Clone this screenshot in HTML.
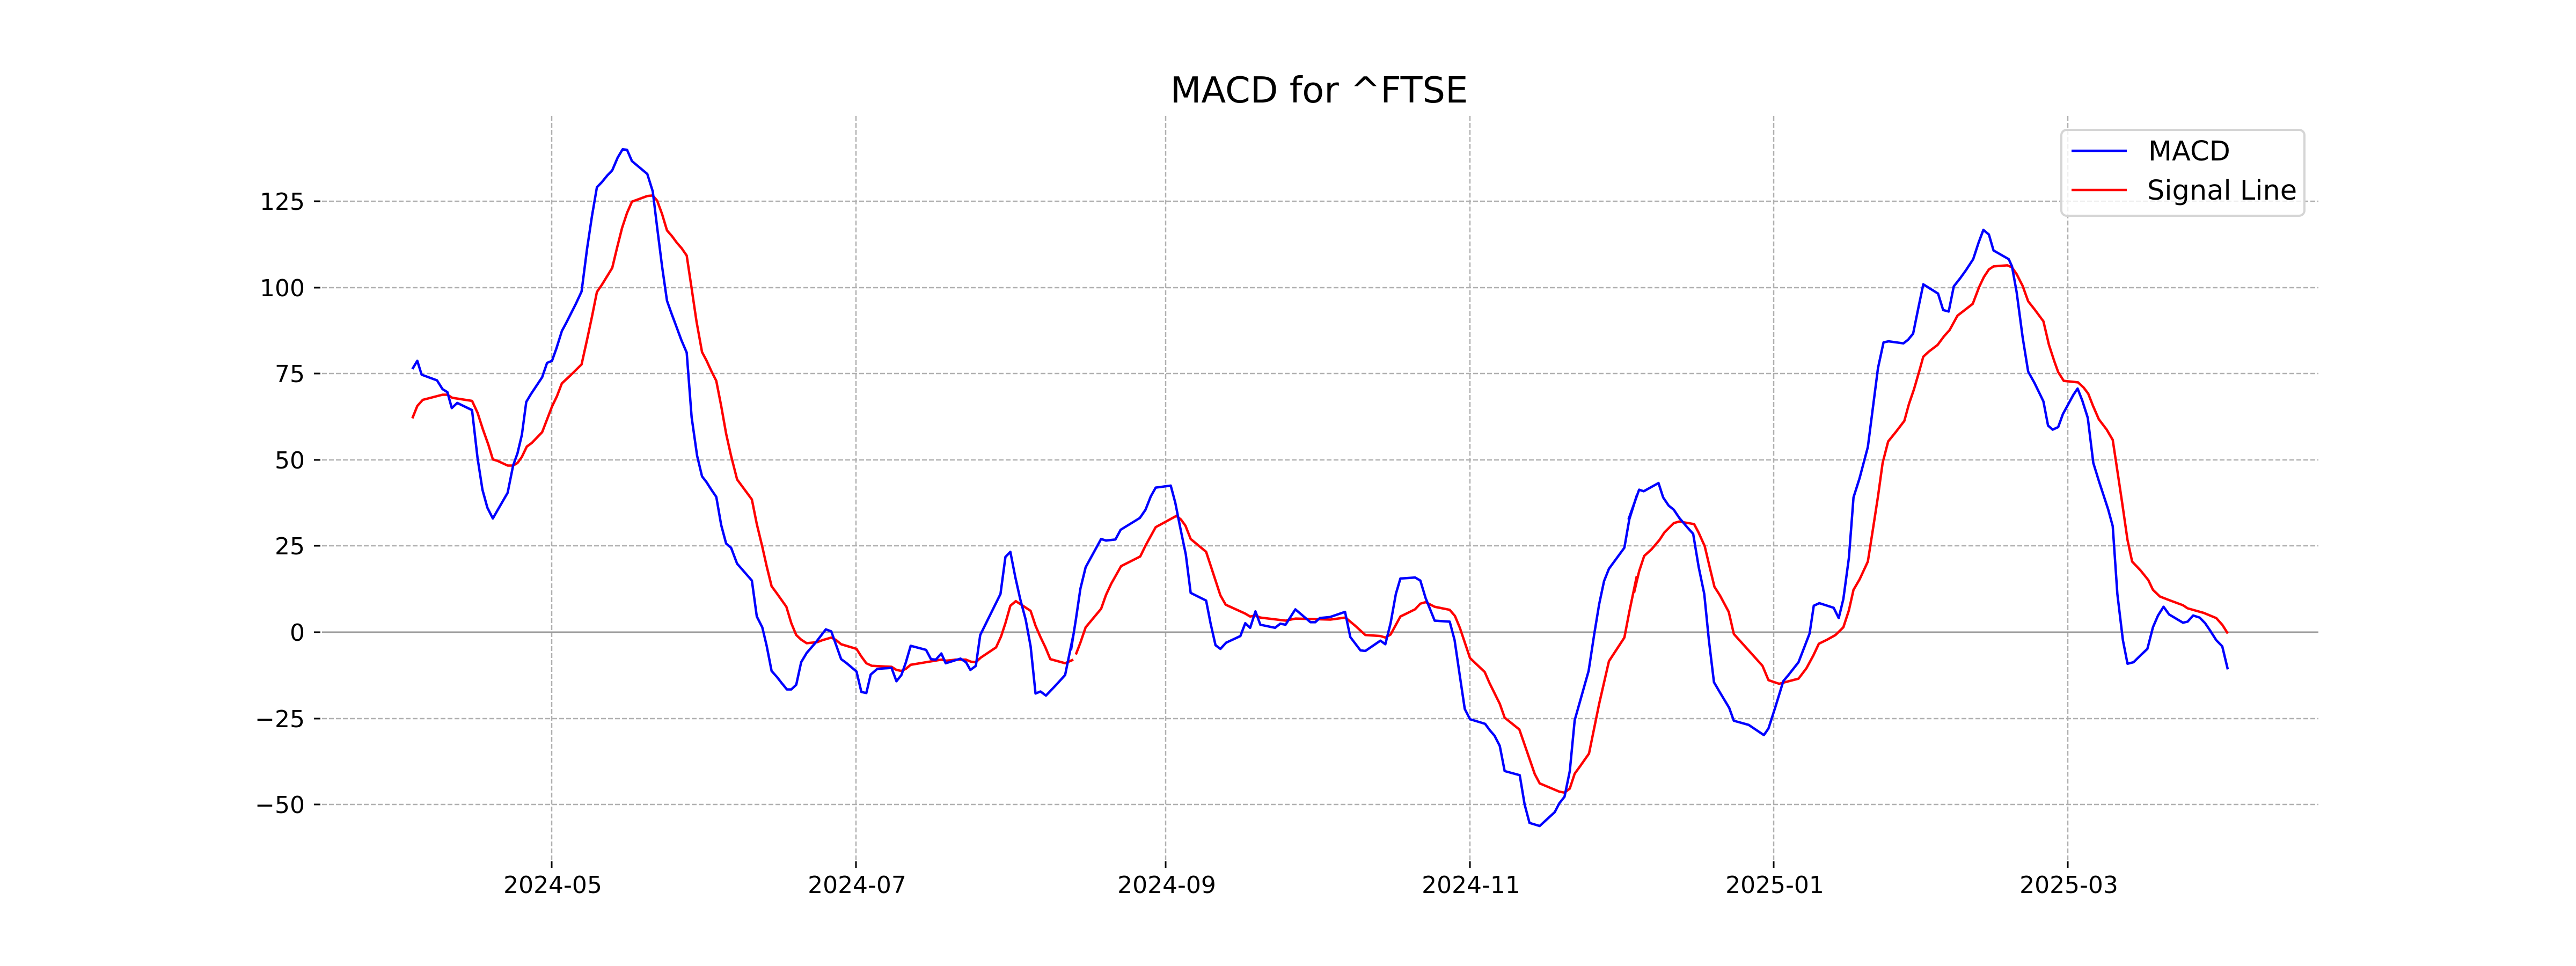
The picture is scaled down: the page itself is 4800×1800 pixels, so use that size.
<!DOCTYPE html>
<html><head><meta charset="utf-8"><style>
html,body{margin:0;padding:0;background:#fff;}
svg{display:block;}
text{font-family:"DejaVu Sans","Liberation Sans",sans-serif;fill:#000;}
</style></head><body>
<svg width="4800" height="1800" viewBox="0 0 4800 1800" xmlns="http://www.w3.org/2000/svg">
<rect width="4800" height="1800" fill="#fff"/>
<g stroke="#b0b0b0" stroke-width="2.5" stroke-dasharray="9,4" fill="none">
<line x1="600" x2="4320" y1="375" y2="375"/>
<line x1="600" x2="4320" y1="536" y2="536"/>
<line x1="600" x2="4320" y1="696" y2="696"/>
<line x1="600" x2="4320" y1="857" y2="857"/>
<line x1="600" x2="4320" y1="1017" y2="1017"/>
<line x1="600" x2="4320" y1="1339" y2="1339"/>
<line x1="600" x2="4320" y1="1499" y2="1499"/>
<line y1="216" y2="1602" x1="1028" x2="1028"/>
<line y1="216" y2="1602" x1="1595" x2="1595"/>
<line y1="216" y2="1602" x1="2172" x2="2172"/>
<line y1="216" y2="1602" x1="2739" x2="2739"/>
<line y1="216" y2="1602" x1="3305" x2="3305"/>
<line y1="216" y2="1602" x1="3853" x2="3853"/>
</g>
<line x1="600" x2="4320" y1="1178" y2="1178" stroke="#999" stroke-width="3"/>
<g stroke="#000" stroke-width="3">
<line x1="585" x2="597" y1="375" y2="375"/><line x1="585" x2="597" y1="536" y2="536"/>
<line x1="585" x2="597" y1="696" y2="696"/><line x1="585" x2="597" y1="857" y2="857"/>
<line x1="585" x2="597" y1="1017" y2="1017"/><line x1="585" x2="597" y1="1178" y2="1178"/>
<line x1="585" x2="597" y1="1339" y2="1339"/><line x1="585" x2="597" y1="1499" y2="1499"/>
<line y1="1605" y2="1617" x1="1028" x2="1028"/><line y1="1605" y2="1617" x1="1595" x2="1595"/>
<line y1="1605" y2="1617" x1="2172" x2="2172"/><line y1="1605" y2="1617" x1="2739" x2="2739"/>
<line y1="1605" y2="1617" x1="3305" x2="3305"/><line y1="1605" y2="1617" x1="3853" x2="3853"/>
</g>
<g font-size="44" text-anchor="end">
<text x="568" y="391">125</text><text x="568" y="552">100</text>
<text x="568" y="712">75</text><text x="568" y="873">50</text>
<text x="568" y="1033">25</text><text x="568" y="1194">0</text>
<text x="568" y="1355">−25</text><text x="568" y="1515">−50</text>
</g>
<g font-size="44" text-anchor="middle">
<text x="1030" y="1664">2024-05</text><text x="1597" y="1664">2024-07</text>
<text x="2174" y="1664">2024-09</text><text x="2741" y="1664">2024-11</text>
<text x="3307" y="1664">2025-01</text><text x="3855" y="1664">2025-03</text>
</g>
<text x="2458" y="191" font-size="67" text-anchor="middle">MACD for ^FTSE</text>
<g fill="none" stroke-width="4.5" stroke-linejoin="round">
<g transform="translate(400,150) scale(1.0204,0.9567)">
<polyline vector-effect="non-scaling-stroke" stroke="#ff0000" points="361,658 370,634 380,622 416,612 425,612 434,618 470,624 480,647 490,680 500,710 508,738 517,741 535,750 545,750 553,745 561,733 570,713 579,706 598,685 607,660 616,635 625,615 634,590 651,573 670,553 680,505 689,460 698,412 707,398 726,365 735,325 744,287 753,258 762,236 790,225 800,224 808,234 817,260 826,292 835,303 844,316 853,327 862,341 871,405 880,470 890,529 898,545 907,566 916,585 925,634 934,688 943,731 954,777 963,790 981,816 990,864 1000,908 1008,946 1017,985 1026,998 1044,1025 1053,1057 1062,1080 1071,1089 1081,1096 1100,1094 1110,1090 1126,1085 1135,1090 1144,1098 1172,1107 1181,1122 1190,1135 1200,1140 1236,1142 1245,1148 1254,1150 1262,1146 1271,1138 1299,1133 1327,1128 1336,1130 1353,1128 1372,1128 1381,1132 1390,1133 1399,1124 1427,1104 1436,1083 1444,1057 1453,1023 1463,1014 1490,1033 1499,1062 1508,1084 1517,1104 1526,1127 1553,1135 1568,1128"/>
<polyline vector-effect="non-scaling-stroke" stroke="#0000ff" points="361,562 370,546 378,573 406,584 416,601 425,607 433,638 443,628 470,642 480,735 489,797 498,832 508,853 516,838 535,803 545,750 553,726 561,690 569,626 578,610 598,578 607,550 616,546 624,522 634,488 643,470 660,434 670,411 680,328 689,264 698,208 707,198 717,185 726,175 736,150 745,134 753,135 762,157 790,182 800,216 808,286 817,362 826,429 835,456 842,476 852,505 862,530 871,656 881,731 890,771 898,782 907,797 916,811 925,866 934,902 943,910 954,941 981,974 990,1044 1000,1065 1008,1101 1017,1150 1027,1162 1035,1173 1045,1186 1053,1186 1062,1177 1071,1133 1081,1115 1098,1094 1116,1069 1126,1073 1135,1100 1144,1127 1153,1134 1172,1151 1181,1191 1190,1193 1198,1157 1210,1146 1236,1144 1245,1170 1254,1158 1262,1134 1271,1101 1299,1109 1308,1127 1317,1128 1327,1116 1335,1135 1362,1126 1372,1133 1380,1148 1390,1140 1398,1080 1435,1000 1444,928 1453,918 1462,967 1471,1010 1481,1050 1490,1102 1499,1194 1508,1190 1518,1198 1535,1179 1553,1158 1568,1080"/>
</g>
<g transform="translate(1950,150) scale(0.7015,0.9567)">
<polyline vector-effect="non-scaling-stroke" stroke="#ff0000" points="78,1118 90,1095 104,1065 145,1029 158,1002 172,980 198,946 249,927 263,906 290,870 345,848 357,855 369,867 383,893 424,918 437,947 462,1003 476,1021 527,1038 541,1044 555,1042 568,1046 635,1052 662,1048 754,1050 794,1046 820,1062 847,1080 887,1082 900,1085 914,1079 940,1044 979,1030 993,1019 1007,1016 1031,1025 1071,1031 1085,1043 1098,1066 1125,1125 1164,1152 1177,1174 1204,1214 1217,1241 1256,1264 1297,1351 1310,1369 1362,1385 1376,1387 1390,1379 1403,1350 1416,1337 1441,1311 1468,1214 1494,1131 1535,1085 1548,1035 1568,965"/>
<polyline vector-effect="non-scaling-stroke" stroke="#0000ff" points="65,1110 78,1050 90,990 104,948 145,893 158,896 183,894 197,875 248,852 263,836 277,810 290,793 330,789 342,822 355,870 370,923 383,998 424,1013 436,1058 449,1100 462,1107 477,1095 515,1082 528,1057 541,1066 555,1034 568,1060 607,1066 621,1058 635,1060 661,1030 701,1055 714,1055 726,1047 753,1045 793,1035 807,1084 834,1110 847,1111 887,1091 900,1098 914,1057 928,1000 940,970 979,968 993,974 1007,1008 1031,1052 1071,1054 1084,1090 1098,1160 1111,1224 1125,1244 1165,1253 1177,1265 1190,1276 1204,1296 1217,1345 1257,1353 1270,1410 1283,1446 1310,1452 1350,1425 1362,1408 1376,1395 1390,1345 1403,1246 1440,1150 1455,1078 1468,1020 1481,975 1494,951 1535,910 1548,855 1568,808"/>
</g>
<g transform="translate(3000,150) scale(0.861,0.9567)">
<polyline vector-effect="non-scaling-stroke" stroke="#ff0000" points="52,998 63,956 74,926 90,913 107,895 118,880 138,862 150,859 182,864 192,881 205,907 215,945 226,986 238,1003 257,1035 268,1078 290,1100 310,1120 330,1140 343,1168 366,1175 408,1165 425,1145 440,1120 452,1097 470,1089 488,1080 505,1065 517,1032 527,992 540,972 558,937 568,880 580,810 590,745 602,703 620,683 637,663 647,630 658,601 669,567 678,538 690,528 709,515 723,498 735,486 752,458 785,435 799,402 809,383 820,368 830,362 860,360 870,364 880,377 893,400 905,430 919,446 938,469 950,515 962,548 970,568 982,585 1013,588 1025,598 1035,610 1045,633 1058,660 1075,680 1088,700 1098,760 1108,820 1120,895 1130,937 1148,954 1165,973 1175,992 1190,1005 1210,1012 1240,1022 1250,1028 1285,1037 1312,1047 1325,1060 1337,1077"/>
<polyline vector-effect="non-scaling-stroke" stroke="#0000ff" points="40,855 63,797 73,800 105,784 115,812 127,828 138,836 150,852 167,870 180,883 192,948 204,1000 214,1090 225,1172 240,1195 258,1222 268,1247 300,1255 333,1275 343,1262 358,1220 375,1170 387,1157 408,1133 420,1105 432,1077 441,1023 453,1018 484,1027 495,1047 505,1010 517,930 527,812 540,775 558,714 570,630 580,560 592,510 603,508 635,512 645,505 656,493 668,440 678,397 710,415 721,447 733,450 744,401 758,385 770,370 786,348 798,315 808,291 820,300 830,331 863,348 870,362 880,412 893,500 905,567 918,588 930,610 938,625 948,672 958,680 970,675 980,650 1003,612 1012,600 1022,623 1034,657 1046,745 1058,780 1078,835 1088,868 1098,1000 1110,1090 1120,1136 1133,1133 1150,1118 1163,1107 1175,1065 1186,1042 1198,1025 1210,1040 1240,1056 1250,1054 1262,1042 1276,1046 1288,1057 1300,1073 1312,1090 1325,1102 1337,1147"/>
</g>
</g>
<rect x="3841" y="242" width="453" height="160" rx="10" fill="#fff" fill-opacity="0.8" stroke="#d5d5d5" stroke-width="4"/>
<line x1="3860" x2="3963" y1="281" y2="281" stroke="#0000ff" stroke-width="4.5"/>
<line x1="3860" x2="3963" y1="354" y2="354" stroke="#ff0000" stroke-width="4.5"/>
<text x="4003" y="299" font-size="51">MACD</text>
<text x="4001" y="372" font-size="51">Signal Line</text>
</svg>
</body></html>
